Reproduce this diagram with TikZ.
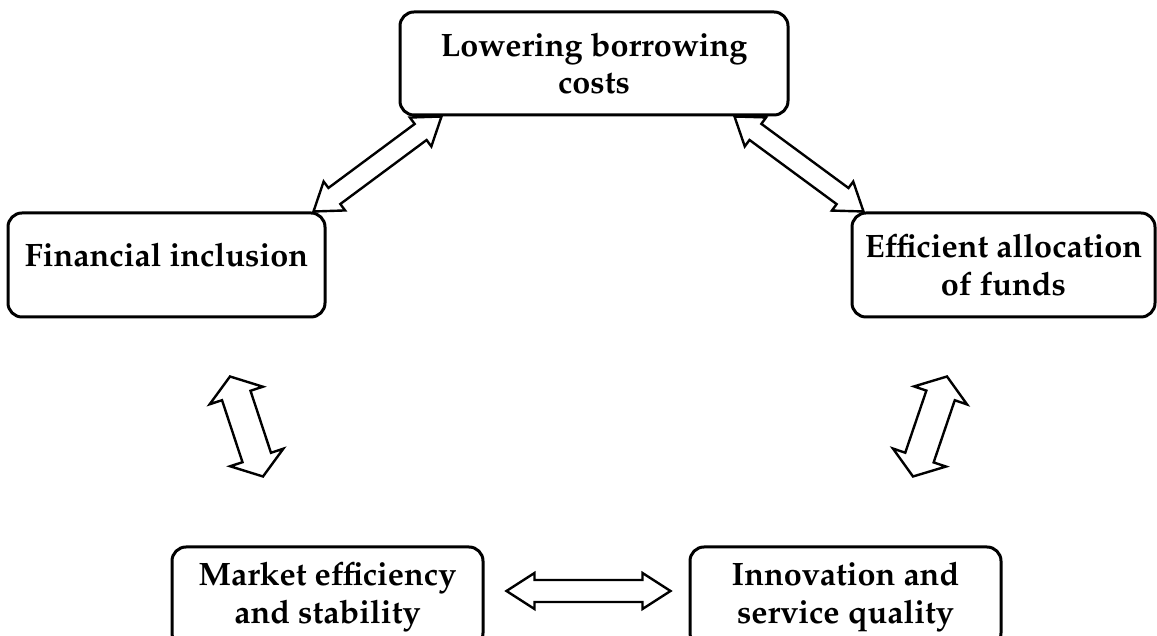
\documentclass[tikz,border=0pt]{standalone}
\usepackage[T1]{fontenc}
\usepackage{mathpazo}
\usetikzlibrary{positioning,calc}

% hollow double arrow: from, to, shaft half width, head half width, head length
\newcommand{\dblarrow}[5]{%
  \draw[blockarrow] (#1) -- ($(#1)!#5!(#2)!#4!90:(#2)$) -- ($(#1)!#5!(#2)!#3!90:(#2)$)
    -- ($(#2)!#5!(#1)!#3!-90:(#1)$) -- ($(#2)!#5!(#1)!#4!-90:(#1)$) -- (#2)
    -- ($(#2)!#5!(#1)!#4!90:(#1)$) -- ($(#2)!#5!(#1)!#3!90:(#1)$)
    -- ($(#1)!#5!(#2)!#3!-90:(#2)$) -- ($(#1)!#5!(#2)!#4!-90:(#2)$) -- cycle;}

\begin{document}
\begin{tikzpicture}[
      x=0.5pt, y=0.5pt,
      every node/.style={on grid},
      box/.style={draw,line width=1.5pt,rounded corners=7pt,align=center,inner sep=0pt,
        font=\fontsize{16.2}{18.8}\selectfont\bfseries},
      blockarrow/.style={draw,fill=white,line width=1.2pt,line join=miter}
    ]
    \useasboundingbox (0,0) rectangle (1157,636);

    % the boxes
    \node[box,minimum width=194pt,minimum height=51.5pt] (costs) at (594,572.5) {Lowering borrowing\\costs};
    \node[box,minimum width=158.5pt,minimum height=52pt,text depth=10.5pt,
      below left=100.75pt and 213.75pt of costs] (incl) {Financial inclusion};
    \node[box,minimum width=151.5pt,minimum height=52pt,right=418.5pt of incl] (alloc) {Efficient allocation\\of funds};
    \node[box,minimum width=155.5pt,minimum height=50pt,below right=166pt and 80.5pt of incl] (market) {Market efficiency\\and stability};
    \node[box,minimum width=155.5pt,minimum height=50pt,right=259pt of market] (innov) {Innovation and\\service quality};

    % the arrow ends
    \coordinate (ic) at ([xshift=-6.5pt]incl.north east);
    \coordinate (ci) at ([xshift=21.5pt]costs.south west);
    \coordinate (ca) at ([xshift=-27.5pt]costs.south east);
    \coordinate (ac) at ([xshift=6.5pt]alloc.north west);
    \coordinate (im) at ([shift={(31.75pt,-29pt)}]incl.south);
    \coordinate (mi) at ([shift={(-32.25pt,34.5pt)}]market.north);
    \coordinate (ai) at ([shift={(-28.25pt,-29pt)}]alloc.south);
    \coordinate (ia) at ([shift={(33.75pt,34.5pt)}]innov.north);
    \coordinate (mn) at ([shift={(11pt,3pt)}]market.east);
    \coordinate (nm) at ([shift={(-9pt,3pt)}]innov.west);

    % the arrows
    \dblarrow{ic}{ci}{5pt}{9pt}{13pt}
    \dblarrow{ca}{ac}{5pt}{9pt}{13pt}
    \dblarrow{im}{mi}{7.5pt}{14pt}{10pt}
    \dblarrow{ai}{ia}{7.5pt}{14pt}{10pt}
    \dblarrow{mn}{nm}{5.5pt}{9pt}{14pt}
    \end{tikzpicture}
\end{document}
